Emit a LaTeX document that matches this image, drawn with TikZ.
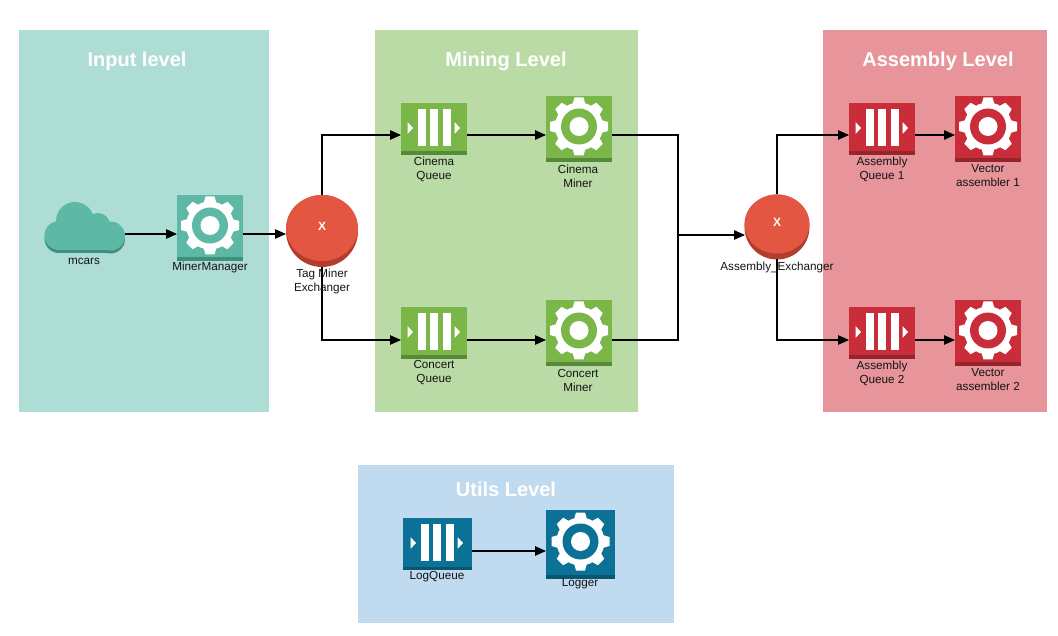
\documentclass[tikz,border=0pt]{standalone}
\usepackage{fontspec}
\setmainfont{Liberation Sans}
\usetikzlibrary{arrows.meta}
\definecolor{panelTeal}{HTML}{AEDDD5}
\definecolor{panelGreen}{HTML}{BBDBA6}
\definecolor{panelRed}{HTML}{E7949A}
\definecolor{panelBlue}{HTML}{C0DBF0}
\definecolor{tealF}{HTML}{5DB9A5}
\definecolor{tealD}{HTML}{3F8F7E}
\definecolor{greenF}{HTML}{7AB648}
\definecolor{greenD}{HTML}{568A38}
\definecolor{redF}{HTML}{C92D39}
\definecolor{redD}{HTML}{96242D}
\definecolor{blueF}{HTML}{0C7196}
\definecolor{blueD}{HTML}{0A5670}
\definecolor{exF}{HTML}{E35641}
\definecolor{exD}{HTML}{B23D2E}
\tikzset{
  paneltitle/.style={text=white,font=\fontsize{20}{24}\selectfont\bfseries,inner sep=0pt},
  tile/.style={rectangle,inner sep=0pt,outer sep=0pt},
  lbl/.style={font=\fontsize{11.7}{14}\selectfont,align=center,text=black!92,inner sep=0pt},
  conn/.style={draw=black,line width=1.2pt,-{Triangle[length=11pt,width=9.5pt]}},
  bus/.style={draw=black,line width=1.2pt},
  exnode/.style={circle,inner sep=0pt,outer sep=0pt}
}
% #1 name, #2 cx, #3 cy, #4 colour prefix, #5 size
\newcommand{\gearTile}[5]{%
  \node[tile,fill=#4F,minimum width=#5pt,minimum height=#5pt] (#1) at (#2,#3) {};
  \begin{scope}[shift={(#2,#3)}]
    \fill[#4D] (-#5/2,#5/2-3.5) rectangle (#5/2,#5/2);
    \begin{scope}[shift={(0,-2.5)}]
      \fill[white] (0,0) circle (24);
      \foreach \a in {0,45,...,315}{
        \fill[white,rotate=\a] (-6.5,-22) -- (-4.5,-29) -- (4.5,-29) -- (6.5,-22) -- cycle;
      }
      \fill[#4F] (0,0) circle (18);
      \fill[white] (0,0) circle (9.5);
    \end{scope}
  \end{scope}
}
\newcommand{\queueTile}[5]{%
  \node[tile,fill=#4F,minimum width=#5pt,minimum height=52pt] (#1) at (#2,#3) {};
  \begin{scope}[shift={(#2,#3)}]
    \fill[#4D] (-#5/2,22.5) rectangle (#5/2,26);
    \fill[white] (-16.5,-20) rectangle (-8.5,17);
    \fill[white] (-4,-20) rectangle (4,17);
    \fill[white] (8.5,-20) rectangle (16.5,17);
    \fill[white] (-26.5,-7) -- (-21,-1) -- (-26.5,5) -- cycle;
    \fill[white] (20.5,-7) -- (26,-1) -- (20.5,5) -- cycle;
  \end{scope}
}
\begin{document}
\begin{tikzpicture}[x=1pt,y=-1pt]
\useasboundingbox (0,0) rectangle (1058,636);
% panels
\fill[panelTeal] (19,30) rectangle (269,412);
\fill[panelGreen] (375,30) rectangle (638,412);
\fill[panelRed] (823,30) rectangle (1047,412);
\fill[panelBlue] (358,465) rectangle (674,623);
\node[paneltitle] (tInput) at (137,61) {Input level};
\node[paneltitle] (tMining) at (506,61) {Mining Level};
\node[paneltitle] (tAssembly) at (938,61) {Assembly Level};
\node[paneltitle] (tUtils) at (506,489) {Utils Level};
% cloud
\node[tile,minimum width=80pt,minimum height=51pt] (mcars) at (85,227.5) {};
\foreach \off/\col in {3/tealD,0/tealF}{
  \begin{scope}[yshift=-\off pt]
    \fill[\col] (59,235.5) circle (14.5);
    \fill[\col] (75,221) circle (19);
    \fill[\col] (98,225) circle (12);
    \fill[\col] (110.5,236) circle (14.5);
    \fill[\col] (59,232) rectangle (110.5,250);
  \end{scope}
}
% tiles
\gearTile{manager}{210}{228}{teal}{66}
\queueTile{cinemaQ}{434}{129}{green}{66}
\gearTile{cinemaM}{579}{129}{green}{66}
\queueTile{concertQ}{434}{333}{green}{66}
\gearTile{concertM}{579}{333}{green}{66}
\queueTile{asmQa}{882}{129}{red}{66}
\gearTile{vecA}{988}{129}{red}{66}
\queueTile{asmQb}{882}{333}{red}{66}
\gearTile{vecB}{988}{333}{red}{66}
\queueTile{logQ}{437}{544}{blue}{69}
\gearTile{logger}{580.5}{544}{blue}{69}
% exchangers
\node[exnode,fill=exD,minimum size=72pt] (tag) at (322,231) {};
\fill[exF] (322,228) ellipse [x radius=36,y radius=33];
\node[exnode,fill=exD,minimum size=65pt] (asmEx) at (777,227) {};
\fill[exF] (777,224) ellipse [x radius=32.5,y radius=29.5];
\node[font=\fontsize{12}{14}\selectfont\bfseries,text=white,inner sep=0pt] (tagX) at (322,226) {X};
\node[font=\fontsize{12}{14}\selectfont\bfseries,text=white,inner sep=0pt] (asmX) at (777,222) {X};
% connectors
\coordinate (busJ) at (678,235);
\draw[conn] ([yshift=-6.5pt]mcars.east) -- ([yshift=-6pt]manager.west);
\draw[conn] ([yshift=-6pt]manager.east) -- ([yshift=-3pt]tag.west);
\draw[conn] (tag.north) |- ([yshift=-6pt]cinemaQ.west);
\draw[conn] (tag.south) |- ([yshift=-7pt]concertQ.west);
\draw[conn] ([yshift=-6pt]cinemaQ.east) -- ([yshift=-6pt]cinemaM.west);
\draw[conn] ([yshift=-7pt]concertQ.east) -- ([yshift=-7pt]concertM.west);
\draw[bus] ([yshift=-6pt]cinemaM.east) -| (busJ);
\draw[bus] ([yshift=-7pt]concertM.east) -| (busJ);
\draw[conn] (busJ) -- ([xshift=0.5pt,yshift=-8pt]asmEx.west);
\draw[conn] (asmEx.north) |- ([yshift=-6pt]asmQa.west);
\draw[conn] (asmEx.south) |- ([yshift=-7pt]asmQb.west);
\draw[conn] ([yshift=-6pt]asmQa.east) -- ([yshift=-6pt]vecA.west);
\draw[conn] ([yshift=-7pt]asmQb.east) -- ([yshift=-7pt]vecB.west);
\draw[conn] ([yshift=-7pt]logQ.east) -- ([yshift=-7pt]logger.west);
% labels
\node[lbl] (lMcars) at (84,261) {mcars};
\node[lbl] (lManager) at (210,267.5) {MinerManager};
\node[lbl] (lTag) at (322,281.5) {Tag Miner\\Exchanger};
\node[lbl] (lCinemaQ) at (434,169) {Cinema\\Queue};
\node[lbl] (lCinemaM) at (578,176) {Cinema\\Miner};
\node[lbl] (lConcertQ) at (434,373) {Concert\\Queue};
\node[lbl] (lConcertM) at (578,380) {Concert\\Miner};
\node[lbl] (lAsmEx) at (777,267) {Assembly\_Exchanger};
\node[lbl] (lAsmQa) at (882,169) {Assembly\\Queue 1};
\node[lbl] (lVecA) at (988,176) {Vector\\assembler 1};
\node[lbl] (lAsmQb) at (882,373) {Assembly\\Queue 2};
\node[lbl] (lVecB) at (988,380) {Vector\\assembler 2};
\node[lbl] (lLogQ) at (437,577) {LogQueue};
\node[lbl] (lLogger) at (580,584) {Logger};
\end{tikzpicture}
\end{document}
